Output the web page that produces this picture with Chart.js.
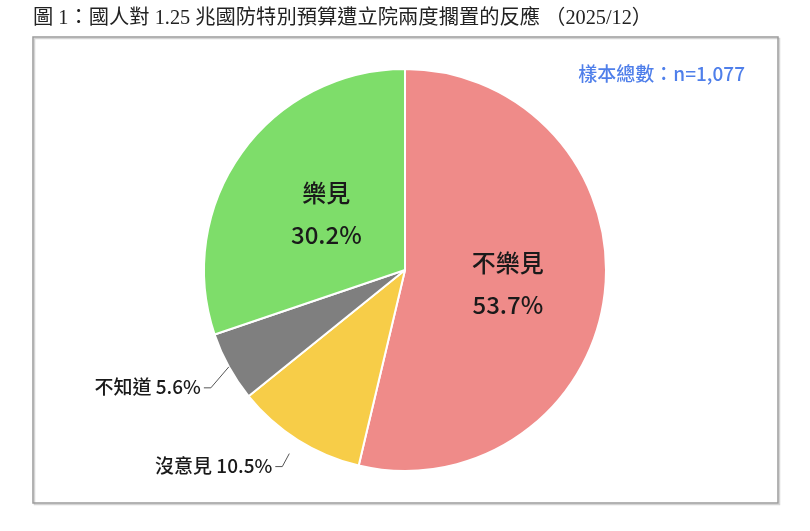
<!DOCTYPE html>
<html>
<head>
<meta charset="utf-8">
<script src="https://cdn.jsdelivr.net/npm/chart.js@4/dist/chart.umd.min.js"></script>
<style>
  html, body { margin: 0; padding: 0; background: #fff; }
  #wrap { width: 810px; height: 531px; }
</style>
</head>
<body>
<div id="wrap"><canvas id="pieChart" width="810" height="531"></canvas></div>
<script>
// chart data
const chartTitle = '圖 1：國人對 1.25 兆國防特別預算遭立院兩度擱置的反應 （2025/12）';
const sampleNote = '樣本總數：n=1,077';
const categories = ['不樂見', '沒意見', '不知道', '樂見'];
const shares = [53.7, 10.5, 5.6, 30.2];

const sliceColors = ['#EF8B89', '#F7CD48', '#7F7F7F', '#7EDD6A'];
const CJK = '"Noto Sans CJK TC", "Noto Sans", sans-serif';

// how each label is placed: inside the slice, or outside with a leader line
const labelStyle = [
    { inside: true },
    { inside: false, gap: 16, elbow: [-7, 13] },
    { inside: false, gap: 0, elbow: [-18, 21] },
    { inside: true }
];

const framePlugin = {
    id: 'frame',
    beforeDraw(chart) {
        const ctx = chart.ctx;
        ctx.save();
        ctx.fillStyle = '#fff';
        ctx.fillRect(0, 0, chart.width, chart.height);

        // box shadow + border
        ctx.strokeStyle = '#d4d4d4';
        ctx.lineWidth = 1.5;
        ctx.strokeRect(34.5, 38.5, 745, 466);
        ctx.strokeStyle = '#9b9b9b';
        ctx.strokeRect(33, 37, 745, 466);

        // title
        ctx.fillStyle = '#222';
        ctx.font = '20.3px "Liberation Serif", "Noto Sans CJK TC", serif';
        ctx.textBaseline = 'middle';
        ctx.textAlign = 'left';
        ctx.fillText(chartTitle, 33, 19);

        // sample size note
        ctx.fillStyle = '#4F7FEA';
        ctx.font = '500 19px ' + CJK;
        ctx.textAlign = 'right';
        ctx.fillText(sampleNote, 745, 74);
        ctx.restore();
    }
};

const labelPlugin = {
    id: 'sliceLabels',
    afterDatasetsDraw(chart) {
        const ctx = chart.ctx;
        const meta = chart.getDatasetMeta(0);
        ctx.save();
        ctx.fillStyle = '#1a1a1a';
        ctx.textBaseline = 'middle';

        meta.data.forEach((arc, i) => {
            const style = labelStyle[i];
            const pct = shares[i].toFixed(1) + '%';
            if (style.inside) {
                const pos = arc.tooltipPosition();
                ctx.font = '500 24px ' + CJK;
                ctx.textAlign = 'center';
                ctx.fillText(categories[i], pos.x + 3, pos.y - 19);
                ctx.fillText(pct, pos.x + 3, pos.y + 23);
                return;
            }
            const p = arc.getProps(['x', 'y', 'startAngle', 'endAngle', 'outerRadius'], true);
            const mid = (p.startAngle + p.endAngle) / 2;
            const r = p.outerRadius + style.gap;
            const sx = p.x + Math.cos(mid) * r;
            const sy = p.y + Math.sin(mid) * r;
            const ex = sx + style.elbow[0];
            const ey = sy + style.elbow[1];

            ctx.strokeStyle = '#555';
            ctx.lineWidth = 1;
            ctx.beginPath();
            ctx.moveTo(sx, sy);
            ctx.lineTo(ex, ey);
            ctx.lineTo(ex - 7, ey);
            ctx.stroke();

            ctx.font = '500 19px ' + CJK;
            ctx.textAlign = 'right';
            ctx.fillText(categories[i] + ' ' + pct, ex - 10, ey - 1);
        });
        ctx.restore();
    }
};

new Chart(document.getElementById('pieChart'), {
    type: 'pie',
    data: {
        labels: categories,
        datasets: [{
            data: shares,
            backgroundColor: sliceColors,
            borderColor: '#ffffff',
            borderWidth: 2
        }]
    },
    options: {
        responsive: false,
        animation: false,
        layout: { padding: { top: 68, bottom: 59, left: 0, right: 0 } },
        plugins: {
            legend: { display: false },
            tooltip: { enabled: false },
            title: { display: false }
        }
    },
    plugins: [framePlugin, labelPlugin]
});
</script>
</body>
</html>
